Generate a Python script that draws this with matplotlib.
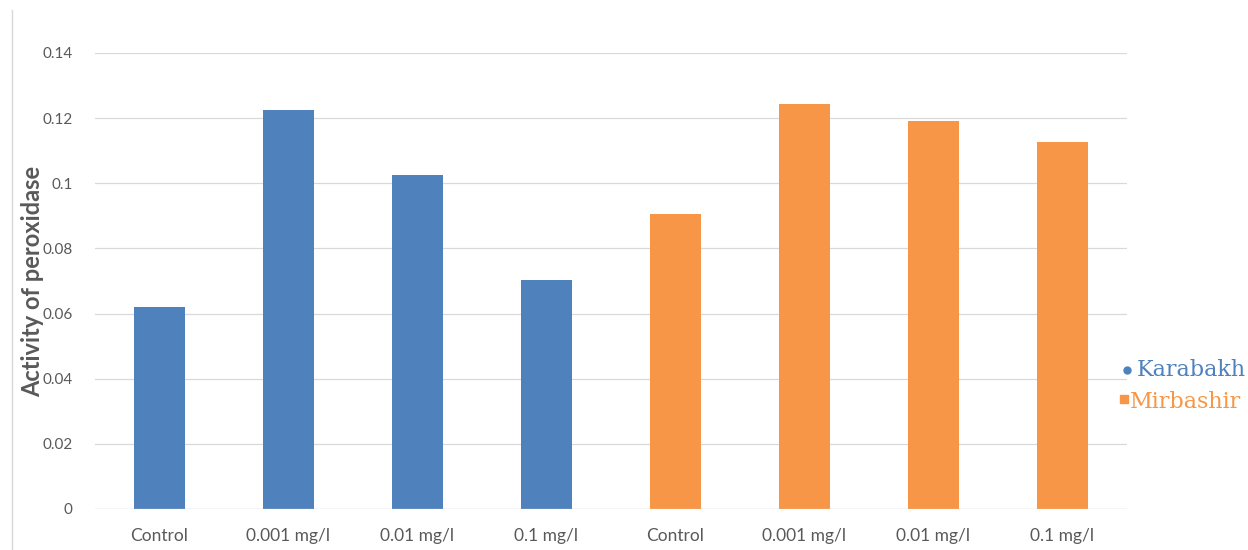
import matplotlib.pyplot as plt
from matplotlib.lines import Line2D

categories = ['Control', '0.001 mg/l', '0.01 mg/l', '0.1 mg/l',
              'Control', '0.001 mg/l', '0.01 mg/l', '0.1 mg/l']
karabakh = [0.062, 0.1225, 0.1025, 0.0703]
mirbashir = [0.0906, 0.1244, 0.1191, 0.1127]
yticks = [0, 0.02, 0.04, 0.06, 0.08, 0.1, 0.12, 0.14]
ytick_labels = ['0', '0.02', '0.04', '0.06', '0.08', '0.1', '0.12', '0.14']

blue = '#4F81BD'
orange = '#F79646'
gray = '#595959'

fig = plt.figure(figsize=(12.48, 5.5), dpi=100)
ax = fig.add_axes([95 / 1248, 1 - 509 / 550, (1127 - 95) / 1248, (509 - 53) / 550])

xs = list(range(len(categories)))
ax.bar(xs[:4], karabakh, width=0.4, color=blue, zorder=3)
ax.bar(xs[4:], mirbashir, width=0.4, color=orange, zorder=3)

ax.set_xlim(-0.5, 7.5)
ax.set_ylim(0, 0.14)
ax.set_yticks(yticks)
ax.set_yticklabels(ytick_labels)
ax.set_xticks(xs)
ax.set_xticklabels(categories)
ax.grid(axis='y', color='#D9D9D9', linewidth=0.9, zorder=0)
for s in ax.spines.values():
    s.set_visible(False)
ax.tick_params(length=0, colors=gray)
ax.tick_params(axis='y', pad=16, labelsize=11)
ax.tick_params(axis='x', pad=14, labelsize=12.5)
for lab in ax.get_xticklabels() + ax.get_yticklabels():
    lab.set_family('Lato')
ax.axhline(0, color='#D9D9D9', linewidth=0.9, zorder=4)

fig.text(33 / 1248, 1 - 281 / 550, 'Activity of peroxidase', rotation=90,
         ha='center', va='center', fontsize=17, fontweight='bold', color=gray, family='Lato')

# legend
fig.add_artist(Line2D([1127 / 1248], [1 - 370 / 550], marker='o', markersize=5,
                      color=blue, linestyle='none', transform=fig.transFigure))
fig.text(1137 / 1248, 1 - 370 / 550, 'Karabakh', color=blue, fontsize=16,
         family='DejaVu Serif', va='center', ha='left')
fig.add_artist(Line2D([1124 / 1248], [1 - 399 / 550], marker='s', markersize=5.5,
                      color=orange, linestyle='none', transform=fig.transFigure))
fig.text(1130 / 1248, 1 - 402 / 550, 'Mirbashir', color=orange, fontsize=16,
         family='DejaVu Serif', va='center', ha='left')

# left border
fig.add_artist(Line2D([12 / 1248, 12 / 1248], [0, 1 - 10 / 550], color='#D9D9D9',
                      linewidth=1, transform=fig.transFigure))

fig.savefig('out.png', dpi=100, facecolor='white')
